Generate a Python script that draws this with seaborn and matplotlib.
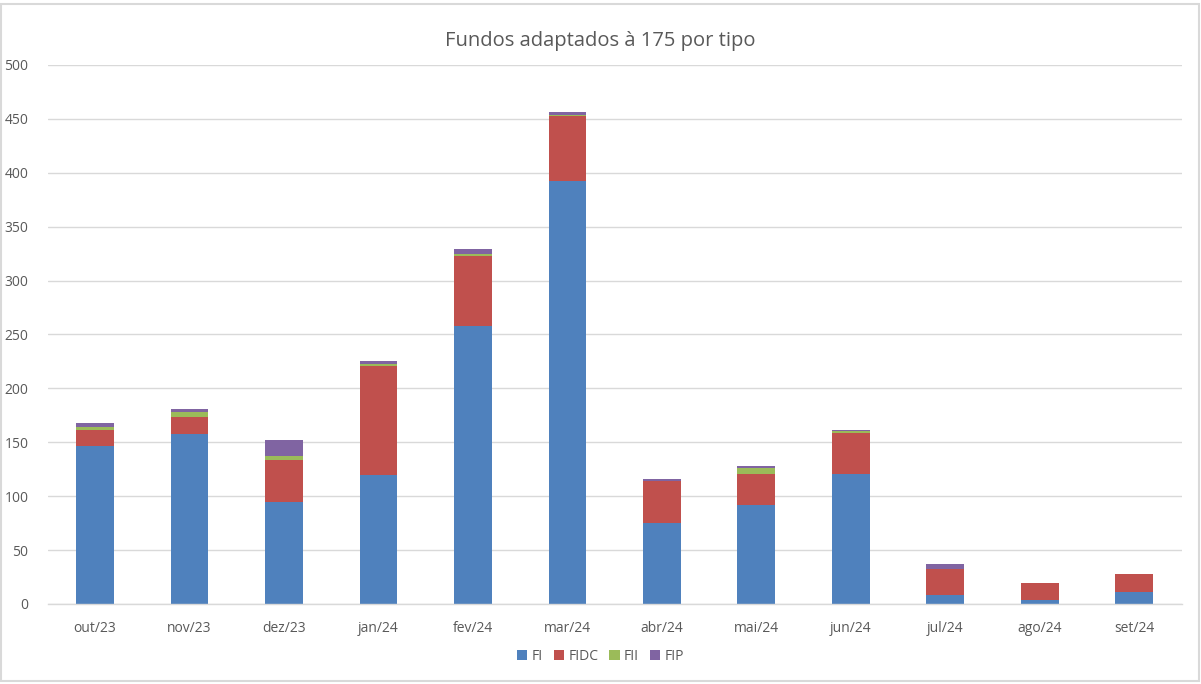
import numpy as np
import pandas as pd
import matplotlib.pyplot as plt
import seaborn as sns
from matplotlib.patches import Patch, Rectangle
from matplotlib.ticker import MultipleLocator, FixedLocator

# --- DATA ---
meses = ['out/23', 'nov/23', 'dez/23', 'jan/24', 'fev/24', 'mar/24',
         'abr/24', 'mai/24', 'jun/24', 'jul/24', 'ago/24', 'set/24']
fi = [147, 158, 95, 120, 258, 392, 75, 92, 121, 8, 4, 11]
fidc = [14, 15, 39, 101, 65, 61, 39, 29, 38, 24, 15, 17]
fii = [3, 5, 3, 2, 2, 1, 0, 5, 1, 0, 0, 0]
fip = [4, 3, 15, 2, 4, 2, 2, 2, 1, 5, 0, 0]

tipos = ['FI', 'FIDC', 'FII', 'FIP']
cores = ['#4F81BD', '#C0504D', '#9BBB59', '#8064A2']

# cumulative heights (stack from bottom: FI, FIDC, FII, FIP)
stack = np.cumsum(np.array([fi, fidc, fii, fip]), axis=0)

sns.set_style("white")
plt.rcParams['font.family'] = ['Open Sans', 'DejaVu Sans']
TXT = '#595959'
GRID = '#D9D9D9'

fig = plt.figure(figsize=(12.01, 6.84), dpi=100)
ax = fig.add_axes([0.0398, 0.117, 0.944, 0.788])

# draw tallest (full stack) first, then overlay lower segments
for i in range(len(tipos) - 1, -1, -1):
    df = pd.DataFrame({'mes': meses, 'valor': stack[i]})
    sns.barplot(data=df, x='mes', y='valor', color=cores[i], width=0.4,
                saturation=1, linewidth=0, edgecolor='none', ax=ax, zorder=2)

ax.set_ylim(0, 500)
ax.set_xlim(-0.5, len(meses) - 0.5)
ax.yaxis.set_major_locator(MultipleLocator(50))
ax.grid(axis='y', color=GRID, linewidth=1, zorder=0)
ax.set_axisbelow(True)

for s in ['top', 'right', 'left']:
    ax.spines[s].set_visible(False)
ax.spines['bottom'].set_color(GRID)
ax.spines['bottom'].set_linewidth(1)

ax.set_xlabel('')
ax.set_ylabel('')
ax.tick_params(axis='y', length=0, pad=14, labelsize=10, labelcolor=TXT)
ax.tick_params(axis='x', which='major', length=0, pad=12, labelsize=10, labelcolor=TXT)
ax.xaxis.set_minor_locator(FixedLocator(np.arange(-0.5, len(meses), 1)))
ax.tick_params(axis='x', which='minor', length=5, width=1, color=GRID)

fig.suptitle('Fundos adaptados à 175 por tipo', y=0.955, fontsize=14.5, color=TXT)

handles = [Patch(facecolor=c, edgecolor='none', label=t) for t, c in zip(tipos, cores)]
fig.legend(handles=handles, loc='center', bbox_to_anchor=(0.5, 0.04), ncol=4,
           frameon=False, fontsize=10, labelcolor=TXT, handlelength=0.75,
           handleheight=0.75, handletextpad=0.3, columnspacing=0.8)

# chart area border
fig.patches.append(Rectangle((0.001, 0.004), 0.997, 0.99, transform=fig.transFigure,
                             fill=False, edgecolor=GRID, linewidth=1.5))

fig.savefig('out.png', dpi=100)
